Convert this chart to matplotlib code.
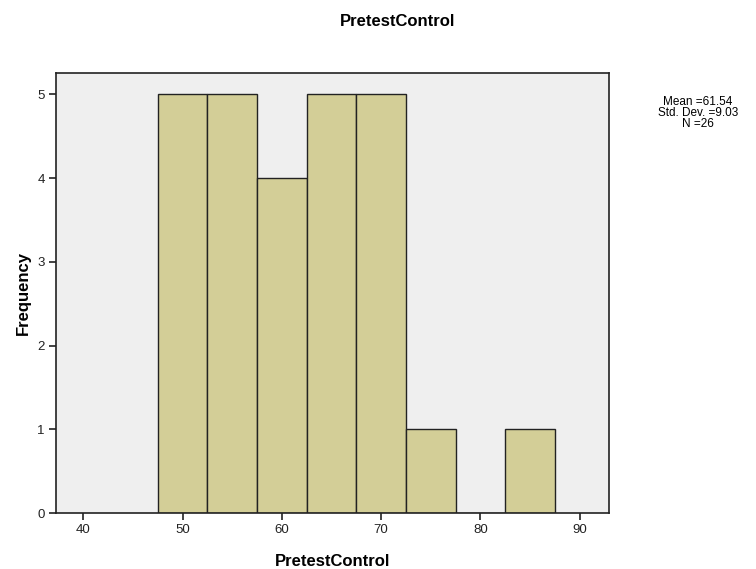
import numpy as np
import matplotlib
matplotlib.use('Agg')
import matplotlib.pyplot as plt

plt.rcParams['font.family'] = ['Liberation Sans', 'DejaVu Sans']

# histogram bins (width 5) and counts
bin_edges = [47.5, 52.5, 57.5, 62.5, 67.5, 72.5, 77.5, 82.5, 87.5]
counts = [5, 5, 4, 5, 5, 1, 0, 1]
mean_val = 61.54
std_val = 9.03
n_val = 26

x_ticks = [40, 50, 60, 70, 80, 90]
y_ticks = [0, 1, 2, 3, 4, 5]

fig = plt.figure(figsize=(7.56, 5.69), dpi=100)
ax = fig.add_axes([0.0741, 0.0984, 0.7315, 0.7738])
ax.set_facecolor('#efefef')

edges = np.array(bin_edges)
ax.bar(edges[:-1], counts, width=np.diff(edges), align='edge',
       color='#d3ce97', edgecolor='#222222', linewidth=1.0, zorder=2)

ax.set_xlim(37.25, 92.95)
ax.set_ylim(0, 5.26)
ax.set_xticks(x_ticks)
ax.set_yticks(y_ticks)
ax.tick_params(direction='out', length=5, width=1.2, labelsize=9.5,
               colors='#222222', pad=3)
for sp in ax.spines.values():
    sp.set_color('#222222')
    sp.set_linewidth(1.2)

ax.set_xlabel('PretestControl', fontsize=12, fontweight='bold', labelpad=13)
ax.set_ylabel('Frequency', fontsize=12, fontweight='bold', labelpad=5)

fig.text(398 / 756, 1 - 22 / 569, 'PretestControl', ha='center', va='center',
         fontsize=12, fontweight='bold')

stats = 'Mean =%.2f\nStd. Dev. =%.2f\nN =%d' % (mean_val, std_val, n_val)
fig.text(698 / 756, 1 - 113 / 569, stats, ha='center', va='center',
         fontsize=8.5, linespacing=0.85)

fig.savefig('out.png', dpi=100, facecolor='white')
